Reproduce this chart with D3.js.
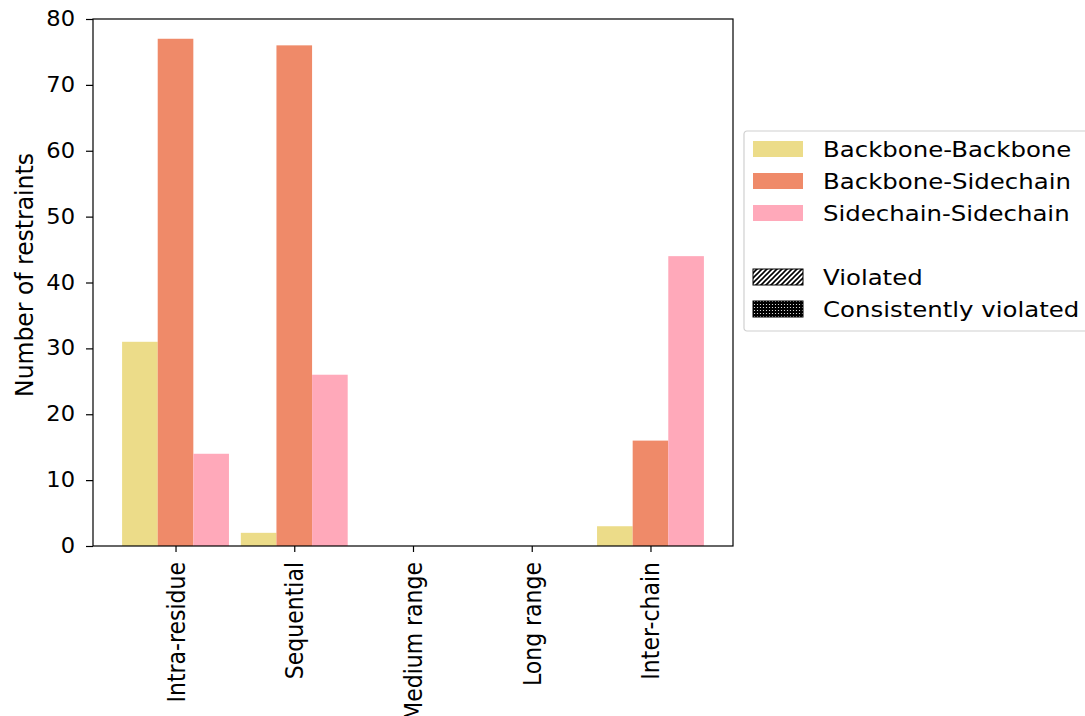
<!DOCTYPE html>
<html>
<head>
<meta charset="utf-8">
<script src="https://cdn.jsdelivr.net/npm/d3@7"></script>
<style>
  body { margin: 0; background: #fff; }
  svg, svg text { font-family: "DejaVu Sans", sans-serif; }
</style>
</head>
<body>
<svg id="chart" width="1085" height="716"></svg>
<script>
const categories = ['Intra-residue', 'Sequential', 'Medium range', 'Long range', 'Inter-chain']
const seriesNames = ['Backbone-Backbone', 'Backbone-Sidechain', 'Sidechain-Sidechain']
const backboneBackbone = [31, 2, 0, 0, 3]
const backboneSidechain = [77, 76, 0, 0, 16]
const sidechainSidechain = [14, 26, 0, 0, 44]
const yTicks = [0, 10, 20, 30, 40, 50, 60, 70, 80]
const colors = ['#ecdc89', '#ef8a69', '#ffa9ba']

const series = [backboneBackbone, backboneSidechain, sidechainSidechain]

const margin = { top: 19, right: 352, bottom: 170, left: 93 }
const width = 1085 - margin.left - margin.right
const height = 716 - margin.top - margin.bottom
// the picture's text is a bit wider than it is tall
const stretch = 1.1

const svg = d3.select('#chart')

// hatch patterns for the legend
const defs = svg.append('defs')
const hatch = defs.append('pattern')
  .attr('id', 'hatch').attr('patternUnits', 'userSpaceOnUse')
  .attr('width', 5).attr('height', 5)
hatch.append('rect').attr('width', 5).attr('height', 5).attr('fill', '#fff')
hatch.append('path').attr('d', 'M-1,1 l2,-2 M0,5 l5,-5 M4,6 l2,-2')
  .attr('stroke', '#000').attr('stroke-width', 1.6)
const dots = defs.append('pattern')
  .attr('id', 'dots').attr('patternUnits', 'userSpaceOnUse')
  .attr('width', 3).attr('height', 3)
dots.append('rect').attr('width', 3).attr('height', 3).attr('fill', '#000')
dots.append('circle').attr('cx', 1.5).attr('cy', 1.5).attr('r', 0.6).attr('fill', '#fff')

const g = svg.append('g')
  .attr('transform', `translate(${margin.left},${margin.top})`)

const barW = 0.3
const xScale = d3.scaleLinear()
  .domain([-0.695, categories.length - 1 + 0.695])
  .range([0, width])
const yScale = d3.scaleLinear()
  .domain([0, 80])
  .range([height, 0])

series.forEach((vals, s) => {
  g.selectAll('.bar' + s)
    .data(vals)
    .enter().append('rect')
    .attr('class', 'bar' + s)
    .attr('fill', colors[s])
    .attr('x', (d, i) => xScale(i + (s - 1.5) * barW))
    .attr('width', xScale(barW) - xScale(0))
    .attr('y', d => yScale(d))
    .attr('height', d => height - yScale(d))
})

const yAxis = g.append('g')
  .call(d3.axisLeft(yScale).tickValues(yTicks).tickSize(7).tickPadding(10))
yAxis.attr('font-family', '"DejaVu Sans", sans-serif')
yAxis.selectAll('text')
  .attr('font-size', 20.5).attr('fill', '#000')
  .attr('x', null)
  .attr('transform', `translate(-18,0) scale(${stretch},1)`)

const xAxis = g.append('g')
  .attr('transform', `translate(0,${height})`)
  .call(d3.axisBottom(xScale).tickValues(d3.range(categories.length))
    .tickFormat(i => categories[i]).tickSize(6).tickPadding(4))
xAxis.attr('font-family', '"DejaVu Sans", sans-serif')
xAxis.selectAll('text')
  .attr('font-size', 22).attr('fill', '#000')
  .attr('transform', `rotate(-90) scale(1,${stretch})`)
  .attr('text-anchor', 'end')
  .attr('x', -16).attr('y', 0).attr('dy', '0.35em')

svg.selectAll('.domain').remove()
svg.selectAll('.tick line').attr('stroke', '#000').attr('stroke-width', 1.2)

g.append('rect')
  .attr('width', width).attr('height', height)
  .attr('fill', 'none').attr('stroke', '#000').attr('stroke-width', 1.2)

svg.append('text')
  .attr('transform', `translate(33,275) rotate(-90) scale(1,1.05)`)
  .attr('text-anchor', 'middle')
  .attr('font-size', 23.5)
  .text('Number of restraints')

// legend
const legend = svg.append('g').attr('transform', 'translate(744,131)')
legend.append('rect')
  .attr('width', 360).attr('height', 200).attr('rx', 3)
  .attr('fill', '#fff').attr('stroke', '#d0d0d0').attr('stroke-width', 1.2)

const entries = seriesNames.map((n, i) => ({ name: n, fill: colors[i], edge: 'none', row: i }))
  .concat([
    { name: 'Violated', fill: 'url(#hatch)', edge: '#000', row: 4 },
    { name: 'Consistently violated', fill: 'url(#dots)', edge: '#000', row: 5 }
  ])

const item = legend.selectAll('.item')
  .data(entries)
  .enter().append('g')
  .attr('transform', d => `translate(0,${18 + d.row * 32})`)
item.append('rect')
  .attr('x', 9).attr('y', -8).attr('width', 50).attr('height', 16)
  .attr('fill', d => d.fill).attr('stroke', d => d.edge)
item.append('text')
  .attr('transform', 'translate(79,0) scale(1.11,1)')
  .attr('dy', '0.35em')
  .attr('font-size', 22)
  .text(d => d.name)
</script>
</body>
</html>
